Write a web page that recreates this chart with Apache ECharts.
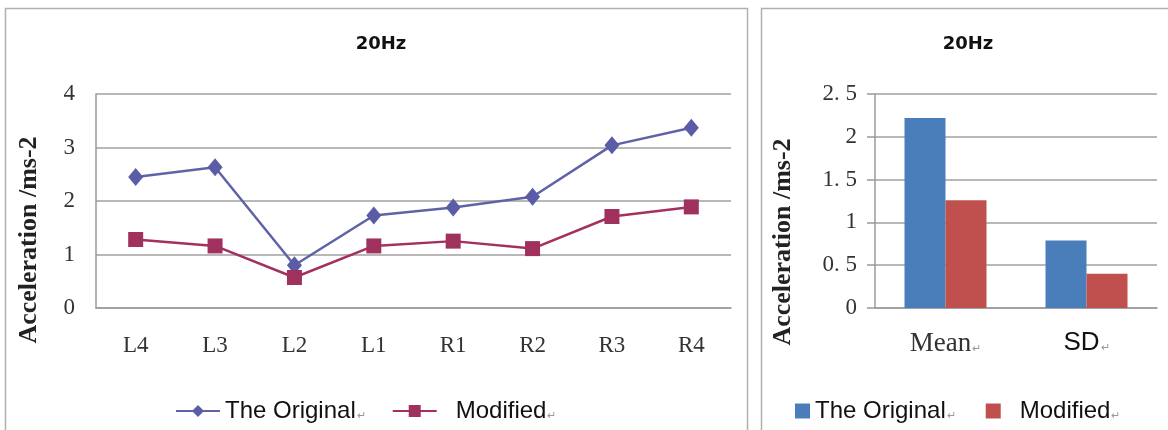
<!DOCTYPE html>
<html>
<head>
<meta charset="utf-8">
<script src="https://cdn.jsdelivr.net/npm/echarts@6/dist/echarts.min.js"></script>
<style>
html,body{margin:0;padding:0;background:#fff;}
#c{width:1168px;height:430px;}
</style>
</head>
<body>
<div id="c"></div>
<script>
// ---- data ----
const positions = ['L4', 'L3', 'L2', 'L1', 'R1', 'R2', 'R3', 'R4'];
const originalLine = [2.45, 2.63, 0.80, 1.73, 1.88, 2.08, 3.04, 3.37];
const modifiedLine = [1.28, 1.16, 0.57, 1.16, 1.25, 1.11, 1.71, 1.89];
const statCategories = ['Mean', 'SD'];
const originalStats = [2.22, 0.79];
const modifiedStats = [1.26, 0.40];
const lineTicks = ['0', '1', '2', '3', '4'];
const barTicks = ['0', '0. 5', '1', '1. 5', '2', '2. 5'];
const titleText = '20Hz';
const axisTitle = 'Acceleration /ms-2';
const seriesOriginal = 'The Original';
const seriesModified = 'Modified';

const chart = echarts.init(document.getElementById('c'), null, {renderer: 'canvas'});
const serif = '"Liberation Serif", "Times New Roman", serif';
const sans = '"Liberation Sans", Arial, sans-serif';
const gridColor = '#a0a0a0';

const legendRich = {
  t: {fontFamily: sans, fontSize: 24, color: '#111'},
  u: {fontFamily: sans, fontSize: 24, color: '#111', padding: [0, 0, 0, 14]},
  m: {fontFamily: sans, fontSize: 11, color: '#999', padding: [9, 0, 0, 1]}
};
function legendFmt(name) {
  const base = name.replace(' (bar)', '');
  const style = base === seriesModified ? 'u' : 't';
  return '{' + style + '|' + base + '}{m|\u21b5}';
}

const option = {
  backgroundColor: '#fff',
  animation: false,
  graphic: [
    {type: 'rect', shape: {x: 5.5, y: 8.5, width: 742, height: 440}, style: {fill: 'none', stroke: '#b0b0b0', lineWidth: 1.5}, silent: true},
    {type: 'rect', shape: {x: 761.5, y: 8.5, width: 420, height: 440}, style: {fill: 'none', stroke: '#b0b0b0', lineWidth: 1.5}, silent: true}
  ],
  title: [
    {text: titleText, left: 376, top: 30, textAlign: 'center',
     textStyle: {fontFamily: '"DejaVu Sans", sans-serif', fontWeight: 'bold', fontSize: 18, color: '#111'}},
    {text: titleText, left: 963, top: 30, textAlign: 'center',
     textStyle: {fontFamily: '"DejaVu Sans", sans-serif', fontWeight: 'bold', fontSize: 18, color: '#111'}}
  ],
  legend: [
    {data: [seriesOriginal, seriesModified], left: 170, top: 394, itemWidth: 44, itemHeight: 15, itemGap: 26,
     formatter: legendFmt, textStyle: {rich: legendRich}},
    {data: [seriesOriginal + ' (bar)', seriesModified + ' (bar)'], left: 790, top: 394, itemWidth: 15, itemHeight: 15, itemGap: 30,
     icon: 'rect', formatter: legendFmt, textStyle: {rich: legendRich}}
  ],
  grid: [
    {left: 96, right: 437, top: 94, bottom: 122},
    {left: 875, right: 11, top: 94, bottom: 122}
  ],
  xAxis: [
    {type: 'category', gridIndex: 0, data: positions, boundaryGap: true,
     axisLine: {lineStyle: {color: '#9a9a9a', width: 1.5}}, axisTick: {show: false},
     axisLabel: {fontFamily: serif, fontSize: 23, color: '#333', margin: 26}},
    {type: 'category', gridIndex: 1, data: statCategories, boundaryGap: true,
     axisLine: {lineStyle: {color: '#9a9a9a', width: 1.5}}, axisTick: {show: false},
     axisLabel: {margin: 22,
       formatter: function (v) { return (v === 'SD' ? '{s|' : '{r|') + v + '}{m|\u21b5}'; },
       rich: {
         r: {fontFamily: serif, fontSize: 27, color: '#333'},
         s: {fontFamily: sans, fontSize: 26, color: '#111'},
         m: {fontFamily: sans, fontSize: 11, color: '#999', padding: [10, 0, 0, 1]}
       }}}
  ],
  yAxis: [
    {type: 'value', gridIndex: 0, min: 0, max: 4, interval: 1,
     name: axisTitle, nameLocation: 'middle', nameGap: 54,
     nameTextStyle: {fontFamily: serif, fontSize: 26, fontWeight: 'bold', color: '#222', padding: [0, 78, 0, 0]},
     axisLine: {show: true, lineStyle: {color: '#9a9a9a', width: 1.5}}, axisTick: {show: false},
     splitLine: {lineStyle: {color: gridColor, width: 1.5}},
     axisLabel: {fontFamily: serif, fontSize: 23, color: '#333', margin: 21,
       formatter: function (v) { return lineTicks[Math.round(v)]; }}},
    {type: 'value', gridIndex: 1, min: 0, max: 2.5, interval: 0.5,
     name: axisTitle, nameLocation: 'middle', nameGap: 79,
     nameTextStyle: {fontFamily: serif, fontSize: 26, fontWeight: 'bold', color: '#222', padding: [0, 82, 0, 0]},
     axisLine: {show: true, lineStyle: {color: '#9a9a9a', width: 1.5}},
     axisTick: {show: true, length: 8, lineStyle: {color: '#9a9a9a', width: 1.5}},
     splitLine: {lineStyle: {color: gridColor, width: 1.5}},
     axisLabel: {fontFamily: serif, fontSize: 23, color: '#333', margin: 18,
       formatter: function (v) { return barTicks[Math.round(v * 2)]; }}}
  ],
  series: [
    {name: seriesOriginal, type: 'line', xAxisIndex: 0, yAxisIndex: 0, data: originalLine,
     symbol: 'diamond', symbolSize: [15, 18], lineStyle: {color: '#6062a8', width: 2.5},
     itemStyle: {color: '#5a5ca6'}},
    {name: seriesModified, type: 'line', xAxisIndex: 0, yAxisIndex: 0, data: modifiedLine,
     symbol: 'rect', symbolSize: 15, lineStyle: {color: '#a3305f', width: 2.5},
     itemStyle: {color: '#a0305e'}},
    {name: seriesOriginal + ' (bar)', type: 'bar', xAxisIndex: 1, yAxisIndex: 1, data: originalStats,
     barWidth: 41, barGap: '0%', itemStyle: {color: '#4a7ebb'}},
    {name: seriesModified + ' (bar)', type: 'bar', xAxisIndex: 1, yAxisIndex: 1, data: modifiedStats,
     barWidth: 41, barGap: '0%', itemStyle: {color: '#c0504d'}}
  ]
};
chart.setOption(option);
</script>
</body>
</html>
